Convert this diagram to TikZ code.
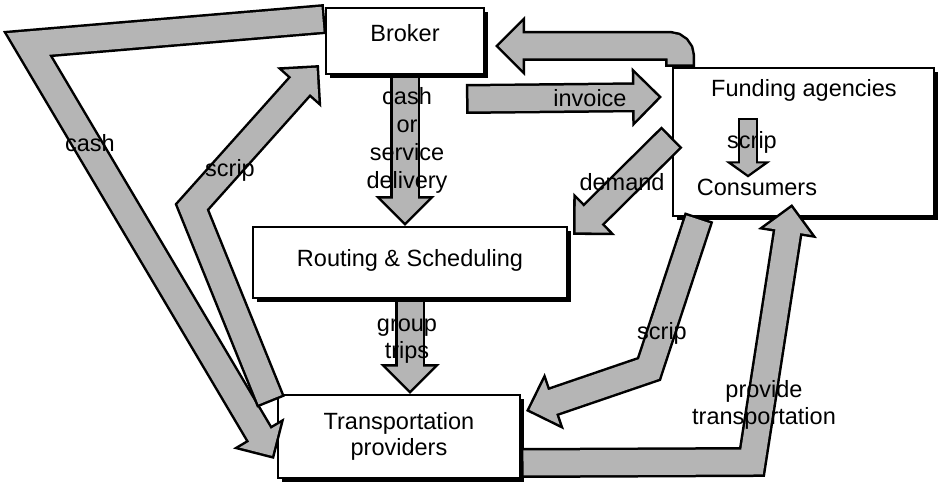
\documentclass[tikz,border=0pt]{standalone}
\usepackage{fontspec}
\setmainfont{Liberation Sans}
\usetikzlibrary{arrows.meta,calc,shadows}

\tikzset{
  box/.style={draw=black, line width=2pt, fill=white, rectangle, inner sep=0pt,
    font=\fontsize{23.5}{26}\selectfont, align=center,
    drop shadow={shadow xshift=4pt, shadow yshift=-4pt, fill=black, opacity=1}},
  lbl/.style={inner sep=0pt, font=\fontsize{23.5}{27}\selectfont, align=center},
  fatout/.style={draw=black, line width=30pt, line join=miter,
    -{Triangle[length=30pt,width=58pt]}},
  fatin/.style={draw=gray!58, line width=25pt, line join=miter,
    shorten >=3.6pt, shorten <=2.5pt,
    -{Triangle[length=23.9pt,width=46.2pt]}},
  thinout/.style={draw=black, line width=20pt,
    -{Triangle[length=16pt,width=44pt]}},
  thinin/.style={draw=gray!58, line width=16pt,
    shorten >=2.9pt, shorten <=2pt,
    -{Triangle[length=11.1pt,width=30pt]}},
}
\newcommand\fatarr[2][]{%
  \draw[fatout,#1] #2;
  \draw[fatin,#1] #2;}

\begin{document}
\begin{tikzpicture}[x=1pt,y=-1pt]
\useasboundingbox (0,0) rectangle (939,487);

% boxes
\node[box, minimum width=158pt, minimum height=66pt, text height=17pt, text depth=16pt]
  (broker) at (405,41) {Broker};
\node[box, minimum width=314pt, minimum height=71pt, text height=17pt, text depth=9pt]
  (routing) at (410,262.5) {Routing \& Scheduling};
\node[box, minimum width=242pt, minimum height=83pt]
  (trans) at (399,436.5) {Transportation\\providers};
\node[box, minimum width=261pt, minimum height=148pt] (fcbox) at (803.5,142) {};
\node[lbl] (funding) at (804,90) {Funding agencies};
\node[lbl] (consumers) at (757,187) {Consumers};

% thick arrows
\fatarr{($(broker.north west)+(0,12)$) -- (28,44) -- ($(trans.south west)+(-3,-20)$)}
\fatarr{($(trans.north west)+(-6,8)$) -- (192,207) -- ($(broker.south west)+(-6,-10)$)}
\fatarr{(broker.south) -- (broker.south |- routing.north)}
\fatarr{(routing.south) -- (routing.south |- trans.north)}
\fatarr[rounded corners=10pt]{($(fcbox.north west)+(8,0)$) -- ++(0,-21) -- ($(broker.north east)+(10,39)$)}
\fatarr{($(broker.south east)+(-19,24)$) -- ($(fcbox.north west)+(-10,30)$)}
\fatarr{($(fcbox.north west)+(0,70)$) -- ($(routing.north east)+(5,9)$)}
\fatarr{($(fcbox.south west)+(27,0)$) -- (649,369) -- ($(trans.north east)+(5,17)$)}
\fatarr{($(trans.south east)+(0,-16)$) -- (752,462) -- ($(fcbox.south west)+(120,-13)$)}
\draw[thinout] ($(consumers.north)+(-9,-60)$) -- ($(consumers.north)+(-9,-1)$);
\draw[thinin] ($(consumers.north)+(-9,-60)$) -- ($(consumers.north)+(-9,-1)$);

% labels
\node[lbl] (lcash1) at (90,143) {cash};
\node[lbl] (lscrip1) at (230,170) {scrip};
\node[lbl, font=\fontsize{23.5}{28}\selectfont] (lcash2) at (407,140) {cash\\or\\service\\delivery};
\node[lbl] (linvoice) at (590,98) {invoice};
\node[lbl] (lscrip2) at (752,142) {scrip};
\node[lbl] (ldemand) at (622,182) {demand};
\node[lbl] (lgroup) at (407,341) {group\\trips};
\node[lbl] (lscrip3) at (662,333) {scrip};
\node[lbl] (lprovide) at (764,405) {provide\\transportation};
\end{tikzpicture}
\end{document}
